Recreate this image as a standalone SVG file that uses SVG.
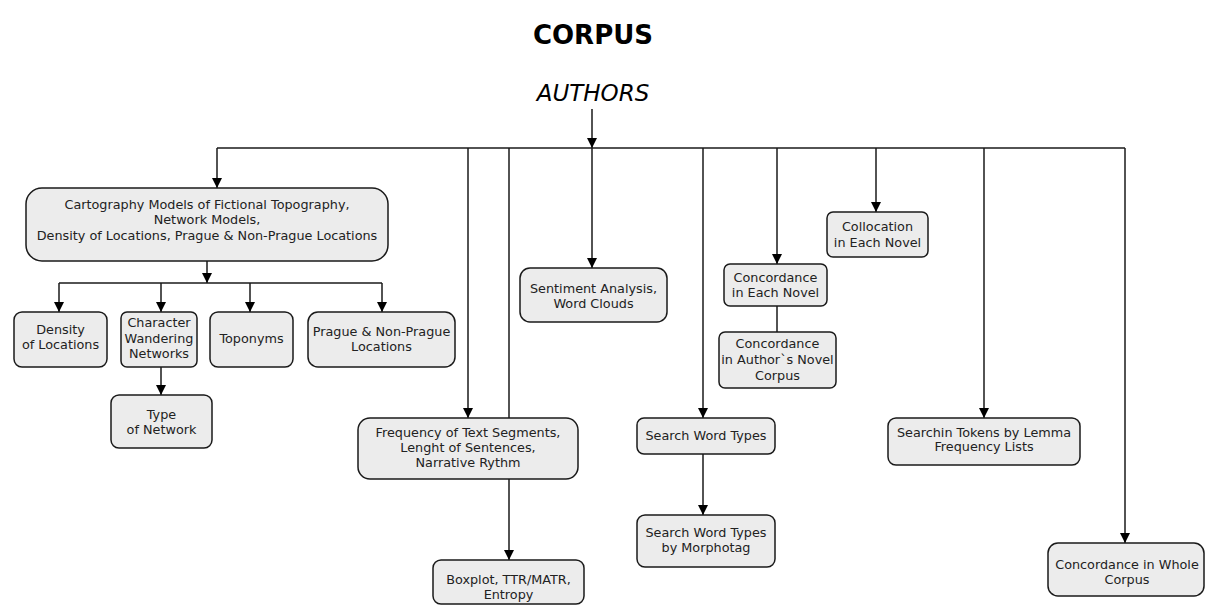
<svg xmlns="http://www.w3.org/2000/svg" width="1205" height="606" viewBox="0 0 1205 606">
<style>
.box{fill:#ececec;stroke:#1a1a1a;stroke-width:1.5}
.t{font-family:"DejaVu Sans",Verdana,sans-serif;font-size:12.8px;fill:#222;text-anchor:middle}
.c{fill:none;stroke:#1a1a1a;stroke-width:1.5}
</style>
<defs>
<marker id="ah" viewBox="0 0 10 10" refX="10" refY="5" markerWidth="10" markerHeight="10" markerUnits="userSpaceOnUse" orient="auto">
<path d="M0,0 L10,5 L0,10 z" fill="#000"/>
</marker>
</defs>
<rect width="1205" height="606" fill="#fff"/>
<text x="593" y="44" font-family="DejaVu Sans,Verdana,sans-serif" font-weight="bold" font-size="26" text-anchor="middle" fill="#000">CORPUS</text>
<text x="593" y="101" font-family="DejaVu Sans,Verdana,sans-serif" font-style="italic" font-size="23" text-anchor="middle" fill="#000">AUTHORS</text>
<g id="connectors">
<path class="c" d="M592,109 V148" marker-end="url(#ah)"/>
<path class="c" d="M217,148 H1125"/>
<path class="c" d="M217,148 V188" marker-end="url(#ah)"/>
<path class="c" d="M468,148 V418" marker-end="url(#ah)"/>
<path class="c" d="M509,148 V560" marker-end="url(#ah)"/>
<path class="c" d="M592,148 V268" marker-end="url(#ah)"/>
<path class="c" d="M703,148 V418" marker-end="url(#ah)"/>
<path class="c" d="M777,148 V264" marker-end="url(#ah)"/>
<path class="c" d="M876,148 V212" marker-end="url(#ah)"/>
<path class="c" d="M984,148 V418" marker-end="url(#ah)"/>
<path class="c" d="M1125,148 V543" marker-end="url(#ah)"/>
<path class="c" d="M207,261 V283" marker-end="url(#ah)"/>
<path class="c" d="M59,283 H382"/>
<path class="c" d="M59,283 V312" marker-end="url(#ah)"/>
<path class="c" d="M161,283 V312" marker-end="url(#ah)"/>
<path class="c" d="M250,283 V312" marker-end="url(#ah)"/>
<path class="c" d="M382,283 V312" marker-end="url(#ah)"/>
<path class="c" d="M161,367 V395" marker-end="url(#ah)"/>
<path class="c" d="M777,306 V332"/>
<path class="c" d="M703,454 V515" marker-end="url(#ah)"/>
</g>
<g id="cartography"><rect class="box" x="26" y="188" width="362" height="73" rx="16"/>
<text class="t"><tspan x="207" y="209">Cartography Models of Fictional Topography,</tspan><tspan x="207" y="224">Network Models,</tspan><tspan x="207" y="240">Density of Locations, Prague &amp; Non-Prague Locations</tspan></text></g>
<g id="density"><rect class="box" x="14" y="312" width="93" height="55" rx="8"/>
<text class="t"><tspan x="60.5" y="334">Density</tspan><tspan x="60.5" y="349">of Locations</tspan></text></g>
<g id="character"><rect class="box" x="121" y="312" width="76" height="55" rx="6"/>
<text class="t"><tspan x="159" y="327">Character</tspan><tspan x="159" y="343">Wandering</tspan><tspan x="159" y="358">Networks</tspan></text></g>
<g id="toponyms"><rect class="box" x="210" y="312" width="83" height="55" rx="8"/>
<text class="t" x="251.5" y="343">Toponyms</text></g>
<g id="prague"><rect class="box" x="308" y="312" width="147" height="55" rx="10"/>
<text class="t"><tspan x="381.5" y="336">Prague &amp; Non-Prague</tspan><tspan x="381.5" y="351">Locations</tspan></text></g>
<g id="type"><rect class="box" x="111" y="395" width="101" height="53" rx="8"/>
<text class="t"><tspan x="161.5" y="419">Type</tspan><tspan x="161.5" y="434">of Network</tspan></text></g>
<g id="sentiment"><rect class="box" x="520" y="268" width="147" height="54" rx="10"/>
<text class="t"><tspan x="593.5" y="293">Sentiment Analysis,</tspan><tspan x="593.5" y="308">Word Clouds</tspan></text></g>
<g id="frequency"><rect class="box" x="358" y="418" width="220" height="61" rx="12"/>
<text class="t"><tspan x="468" y="437">Frequency of Text Segments,</tspan><tspan x="468" y="452">Lenght of Sentences,</tspan><tspan x="468" y="467">Narrative Rythm</tspan></text></g>
<g id="boxplot"><rect class="box" x="433" y="560" width="151" height="44" rx="8"/>
<text class="t"><tspan x="508.5" y="584">Boxplot, TTR/MATR,</tspan><tspan x="508.5" y="599">Entropy</tspan></text></g>
<g id="concordance-each"><rect class="box" x="724" y="264" width="103" height="42" rx="6"/>
<text class="t"><tspan x="775.5" y="282">Concordance</tspan><tspan x="775.5" y="297">in Each Novel</tspan></text></g>
<g id="concordance-author"><rect class="box" x="719" y="332" width="117" height="56" rx="6"/>
<text class="t"><tspan x="777.5" y="348">Concordance</tspan><tspan x="777.5" y="364">in Author`s Novel</tspan><tspan x="777.5" y="380">Corpus</tspan></text></g>
<g id="collocation"><rect class="box" x="827" y="212" width="101" height="45" rx="6"/>
<text class="t"><tspan x="877.5" y="231">Collocation</tspan><tspan x="877.5" y="247">in Each Novel</tspan></text></g>
<g id="search-word"><rect class="box" x="637" y="418" width="138" height="36" rx="7"/>
<text class="t" x="706" y="440">Search Word Types</text></g>
<g id="search-morpho"><rect class="box" x="637" y="515" width="138" height="52" rx="8"/>
<text class="t"><tspan x="706" y="537">Search Word Types</tspan><tspan x="706" y="552">by Morphotag</tspan></text></g>
<g id="searchin"><rect class="box" x="888" y="418" width="192" height="47" rx="8"/>
<text class="t"><tspan x="984" y="437">Searchin Tokens by Lemma</tspan><tspan x="984" y="451">Frequency Lists</tspan></text></g>
<g id="whole"><rect class="box" x="1048" y="543" width="156" height="53" rx="10"/>
<text class="t"><tspan x="1127" y="569">Concordance in Whole</tspan><tspan x="1127" y="584">Corpus</tspan></text></g>
</svg>
